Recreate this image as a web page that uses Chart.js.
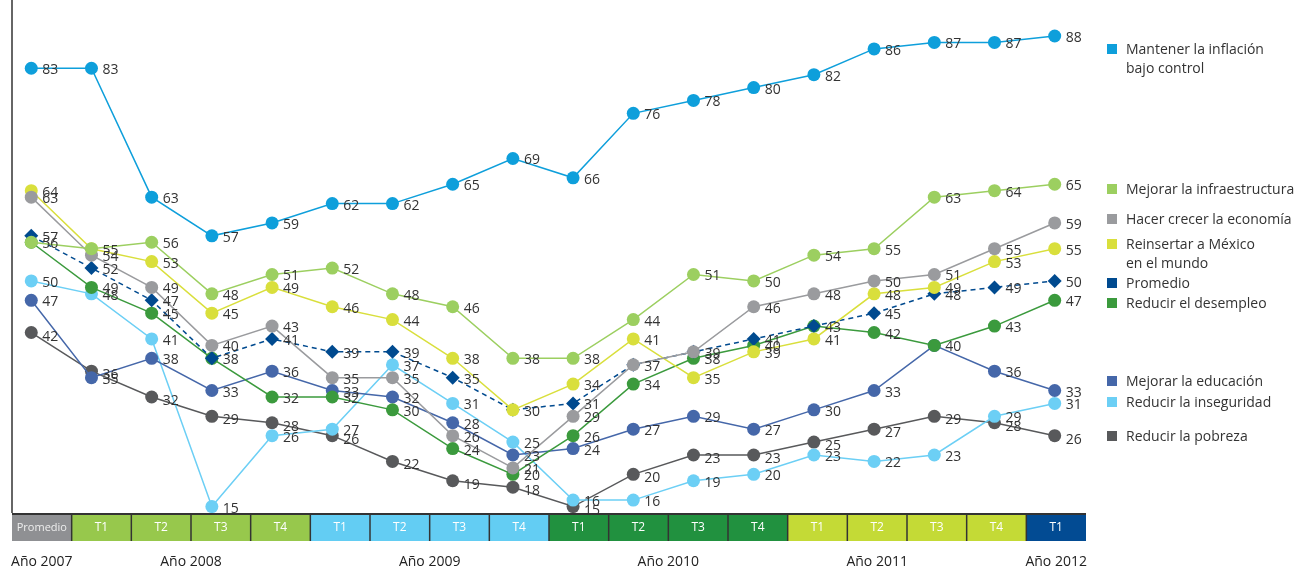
<!DOCTYPE html>
<html>
<head>
<meta charset="utf-8">
<title>Prioridades</title>
<script src="https://cdn.jsdelivr.net/npm/chart.js@4.4.1/dist/chart.umd.min.js"></script>
<style>
  html, body { margin: 0; padding: 0; background: #fff; }
  #wrap { position: relative; width: 1296px; height: 573px; }
</style>
</head>
<body>
<div id="wrap"><canvas id="chart" width="1296" height="573"></canvas></div>
<script>
// periods along the bottom band
const categories = ["Promedio", "T1", "T2", "T3", "T4", "T1", "T2", "T3", "T4", "T1", "T2", "T3", "T4", "T1", "T2", "T3", "T4", "T1"];
const periodYear = [0, 1, 1, 1, 1, 2, 2, 2, 2, 3, 3, 3, 3, 4, 4, 4, 4, 5];
const yearLabels = ["Año 2007", "Año 2008", "Año 2009", "Año 2010", "Año 2011", "Año 2012"];
const yearLabelAt = [0, 2.5, 6.5, 10.5, 14, 17];

// series values
const inflacion = [83, 83, 63, 57, 59, 62, 62, 65, 69, 66, 76, 78, 80, 82, 86, 87, 87, 88];
const infraestructura = [56, 55, 56, 48, 51, 52, 48, 46, 38, 38, 44, 51, 50, 54, 55, 63, 64, 65];
const economia = [63, 54, 49, 40, 43, 35, 35, 26, 21, 29, 37, 39, 46, 48, 50, 51, 55, 59];
const reinsertar = [64, 55, 53, 45, 49, 46, 44, 38, 30, 34, 41, 35, 39, 41, 48, 49, 53, 55];
const promedio = [57, 52, 47, 38, 41, 39, 39, 35, 30, 31, 37, 39, 41, 43, 45, 48, 49, 50];
const desempleo = [56, 49, 45, 38, 32, 32, 30, 24, 20, 26, 34, 38, 40, 43, 42, 40, 43, 47];
const educacion = [47, 35, 38, 33, 36, 33, 32, 28, 23, 24, 27, 29, 27, 30, 33, 40, 36, 33];
const inseguridad = [50, 48, 41, 15, 26, 27, 37, 31, 25, 16, 16, 19, 20, 23, 22, 23, 29, 31];
const pobreza = [42, 36, 32, 29, 28, 26, 22, 19, 18, 15, 20, 23, 23, 25, 27, 29, 28, 26];

const yearColors = ["#8f9093", "#97c84c", "#63cdf3", "#21913f", "#c4da36", "#024b93"];
const FONT = '"Open Sans", "Noto Sans", sans-serif';

function series(label, values, color, extra) {
  return Object.assign({
    label: label,
    data: values.map((v, i) => ({ x: i, y: v })),
    borderColor: color,
    backgroundColor: color,
    pointBackgroundColor: color,
    pointBorderWidth: 0,
    pointRadius: 6.5,
    borderWidth: 1.5,
    tension: 0,
  }, extra || {});
}

const datasets = [
  series("Mantener la inflación\nbajo control", inflacion, "#0e9fdb", { legendY: 49 }),
  series("Mejorar la infraestructura", infraestructura, "#9ccf60", { legendY: 189 }),
  series("Hacer crecer la economía", economia, "#9a9b9e", { legendY: 219 }),
  series("Reinsertar a México\nen el mundo", reinsertar, "#d9df3c", { legendY: 244 }),
  series("Promedio", promedio, "#004a8f", { legendY: 283, borderDash: [5, 4], pointStyle: "rectRot", pointRadius: 7 }),
  series("Reducir el desempleo", desempleo, "#3b9a3d", { legendY: 303 }),
  series("Mejorar la educación", educacion, "#4567a9", { legendY: 381 }),
  series("Reducir la inseguridad", inseguridad, "#6ccff5", { legendY: 402 }),
  series("Reducir la pobreza", pobreza, "#58595b", { legendY: 436, labelDy: 2 }),
];

const overlay = {
  id: "overlay",
  beforeDatasetsDraw(chart) {
    const ctx = chart.ctx;
    const area = chart.chartArea;
    const w = (area.right - area.left) / categories.length;
    ctx.save();

    // period band
    const top = area.bottom + 1;
    const h = 27;
    ctx.textAlign = "center";
    ctx.textBaseline = "middle";
    categories.forEach((c, i) => {
      const left = area.left + i * w;
      ctx.fillStyle = yearColors[periodYear[i]];
      ctx.fillRect(left, top, w, h);
      ctx.fillStyle = i === 0 ? "#eee" : "#fff";
      ctx.font = (i === 0 ? "11px " : "12px ") + FONT;
      ctx.fillText(c, left + w / 2, top + h / 2);
      if (i > 0) {
        ctx.strokeStyle = "#333";
        ctx.lineWidth = 1.5;
        ctx.beginPath();
        ctx.moveTo(left, top);
        ctx.lineTo(left, top + h);
        ctx.stroke();
      }
    });
    ctx.strokeStyle = "#333";
    ctx.lineWidth = 2;
    ctx.beginPath();
    ctx.moveTo(area.left, top);
    ctx.lineTo(area.right, top);
    ctx.stroke();

    // left border of the plot
    ctx.lineWidth = 1.5;
    ctx.beginPath();
    ctx.moveTo(area.left, 0);
    ctx.lineTo(area.left, area.bottom);
    ctx.stroke();

    // years, centred under their block of cells
    ctx.fillStyle = "#222";
    ctx.font = "14px " + FONT;
    yearLabels.forEach((t, k) => {
      const px = area.left + (yearLabelAt[k] + 0.5) * w;
      ctx.fillText(t, px, 562);
    });
    ctx.restore();
  },
  afterDatasetsDraw(chart) {
    const ctx = chart.ctx;
    const drawn = [];
    ctx.save();
    ctx.font = "14px " + FONT;
    ctx.fillStyle = "#333";
    ctx.textAlign = "left";
    ctx.textBaseline = "middle";
    chart.data.datasets.forEach((ds, di) => {
      const meta = chart.getDatasetMeta(di);
      meta.data.forEach((pt, i) => {
        const txt = String(ds.data[i].y);
        const lx = pt.x + 11;
        const ly = pt.y + 2 + (ds.labelDy || 0);
        // same number at (almost) the same spot: write it only once
        if (drawn.some((d) => d.t === txt && Math.abs(d.x - lx) < 4 && Math.abs(d.y - ly) < 10)) return;
        drawn.push({ t: txt, x: lx, y: ly });
        ctx.fillText(txt, lx, ly);
      });
    });

    // legend
    chart.data.datasets.forEach((ds) => {
      ctx.fillStyle = ds.borderColor;
      ctx.fillRect(1107, ds.legendY - 5, 10, 10);
      ctx.fillStyle = "#333";
      ds.label.split("\n").forEach((line, j) => {
        ctx.fillText(line, 1126, ds.legendY + 1 + j * 19);
      });
    });
    ctx.restore();
  },
};

new Chart(document.getElementById("chart"), {
  type: "line",
  data: { datasets: datasets },
  options: {
    responsive: false,
    animation: false,
    layout: { padding: { left: 12, right: 210, top: 0, bottom: 60 } },
    scales: {
      x: { type: "linear", display: false, min: -0.32, max: 17.52 },
      y: { display: false, min: 14, max: 92.5 },
    },
    plugins: {
      legend: { display: false },
      tooltip: { enabled: false },
    },
  },
  plugins: [overlay],
});
</script>
</body>
</html>
